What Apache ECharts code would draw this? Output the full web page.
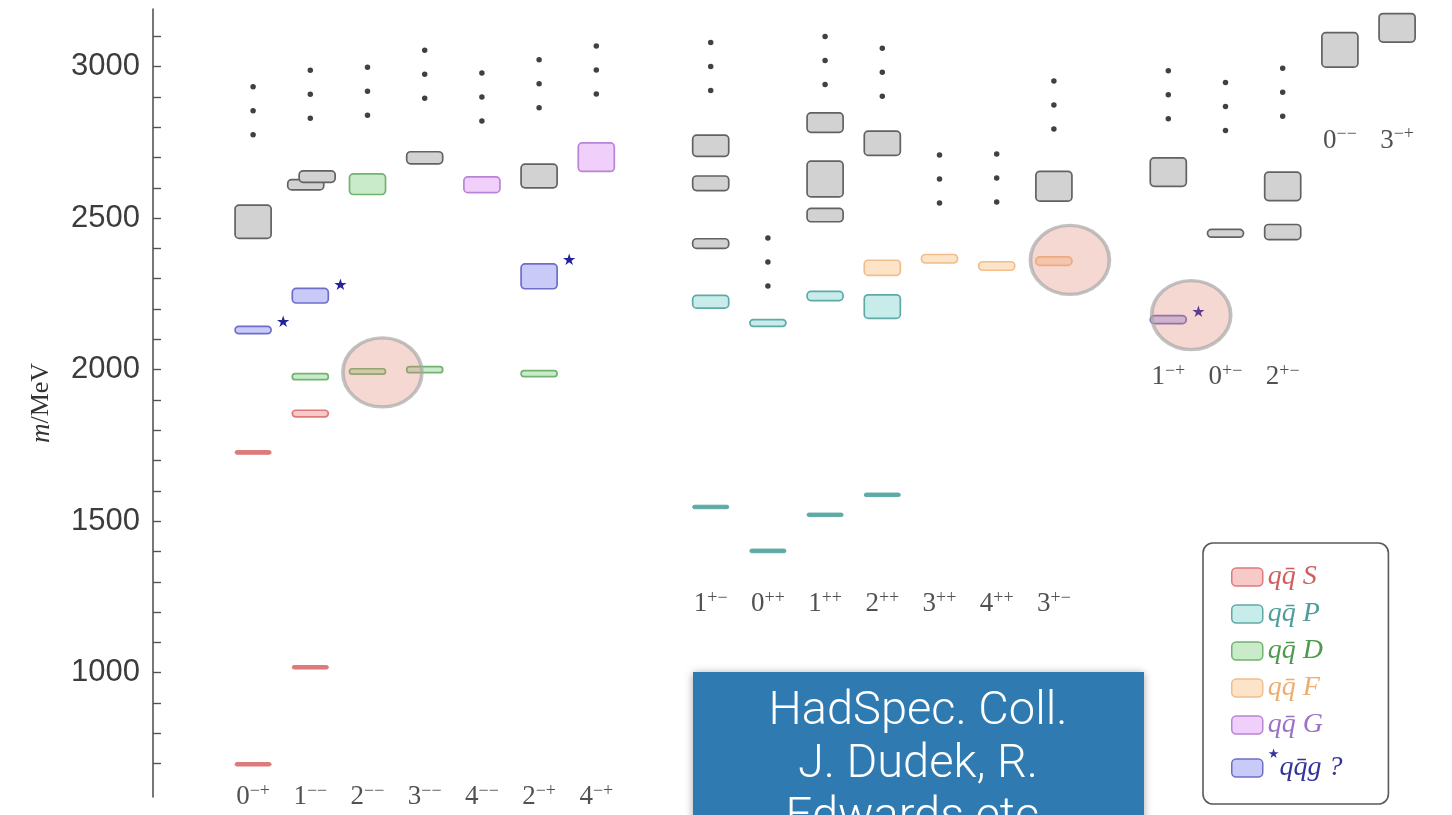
<!DOCTYPE html>
<html>
<head>
<meta charset="utf-8">
<script src="https://cdn.jsdelivr.net/npm/echarts@6/dist/echarts.min.js"></script>
<style>
  html, body { margin: 0; padding: 0; background: #ffffff; }
  #chart { width: 1452px; height: 815px; }
</style>
</head>
<body>
<div id="chart"></div>
<script>
// Isoscalar/isovector meson spectrum: each level is [column, mass (MeV), half-height (MeV)]
const levelsS = [[0, 698, 4], [0, 1727, 6], [1, 1018, 4], [1, 1855, 11]];
const levelsP = [[8, 1547, 5], [8, 2224, 21], [9, 1402, 6], [9, 2154, 11], [10, 1521, 5], [10, 2243, 15], [11, 1587, 5], [11, 2208, 39]];
const levelsD = [[1, 1977, 10], [2, 1994, 9], [2, 2612, 34], [3, 2000, 10], [5, 1987, 10]];
const levelsF = [[11, 2336, 25], [12, 2366, 14], [13, 2342, 14], [14, 2358, 14]];
const levelsG = [[4, 2610, 26], [6, 2701, 47]];
const levelsHybrid = [[0, 2131, 12], [1, 2244, 24], [5, 2308, 41], [16, 2165, 13]];
const levelsOther = [
  [0, 2488, 55], [0.92, 2610, 17], [1.12, 2637, 19], [3, 2699, 20], [5, 2639, 39],
  [8, 2416, 16], [8, 2615, 24], [8, 2739, 35], [10, 2510, 22], [10, 2629, 59], [10, 2815, 32],
  [11, 2747, 40], [14, 2605, 49], [16, 2652, 47], [17, 2450, 13], [18, 2454, 25], [18, 2605, 47],
  [19, 3055, 57], [20, 3128, 47]
];
// further states continue above: [column, mass of the middle dot]
const moreStates = [
  [0, 2854], [1, 2909], [2, 2919], [3, 2975], [4, 2900], [5, 2943], [6, 2989],
  [8, 3000], [9, 2355], [10, 3020], [11, 2981], [12, 2629], [13, 2632], [14, 2873],
  [16, 2907], [17, 2868], [18, 2915]
];
// J^PC channels, their columns and the mass at which each channel name sits
const jpcNames = ['0-+', '1--', '2--', '3--', '4--', '2-+', '4-+',
                  '1+-', '0++', '1++', '2++', '3++', '4++', '3+-',
                  '1-+', '0+-', '2+-', '0--', '3-+'];
const jpcColumns = [0, 1, 2, 3, 4, 5, 6, 8, 9, 10, 11, 12, 13, 14, 16, 17, 18, 19, 20];
const jpcLabelMass = [590, 590, 590, 590, 590, 590, 590,
                      1226, 1226, 1226, 1226, 1226, 1226, 1226,
                      1976, 1976, 1976, 2756, 2756];
// circled states: [column, mass]
const circled = [[2.26, 1991], [14.28, 2362], [16.40, 2180]];
// axis ticks
const massTicks = [700, 800, 900, 1000, 1100, 1200, 1300, 1400, 1500, 1600, 1700, 1800, 1900, 2000,
                   2100, 2200, 2300, 2400, 2500, 2600, 2700, 2800, 2900, 3000, 3100];
const massLabels = [1000, 1500, 2000, 2500, 3000];

const palette = {
  S:      { fill: '#f7c9c9', stroke: '#dd7b7b', text: '#cf5f5f' },
  P:      { fill: '#c8ecea', stroke: '#5eaaa6', text: '#4f9d9a' },
  D:      { fill: '#caebca', stroke: '#72b372', text: '#4e9a4e' },
  F:      { fill: '#fde4c8', stroke: '#f1bd8a', text: '#f0ae6c' },
  G:      { fill: '#f0d0fa', stroke: '#b884d8', text: '#9c72c6' },
  Hybrid: { fill: '#cacaf8', stroke: '#6e6ec8', text: '#34349c' },
  Other:  { fill: '#d2d2d2', stroke: '#626262', text: '#333333' }
};

function levelSeries(name, data, colors, star) {
  return {
    type: 'custom',
    name: name,
    coordinateSystem: 'cartesian2d',
    data: data,
    encode: { x: 0, y: 1 },
    z: 2,
    silent: true,
    itemStyle: { color: colors.fill, borderColor: colors.stroke, borderWidth: 1.5 },
    renderItem: function (params, api) {
      const col = api.value(0), m = api.value(1), e = api.value(2);
      const top = api.coord([col, m + e]);
      const bot = api.coord([col, m - e]);
      const w = api.size([0.63, 0])[0];
      let h = bot[1] - top[1];
      let y0 = top[1];
      const minH = 3.5;
      const thin = h < 5;
      if (h < minH) { y0 -= (minH - h) / 2; h = minH; }
      const children = [{
        type: 'rect',
        shape: { x: top[0] - w / 2, y: y0, width: w, height: h, r: Math.min(4, h / 2) },
        style: { fill: thin ? colors.stroke : colors.fill, stroke: colors.stroke, lineWidth: thin ? 1 : 1.7 }
      }];
      if (star) {
        children.push({
          type: 'text',
          style: {
            text: '\u2605', x: top[0] + w / 2 + 12, y: y0 - 3,
            fill: '#22229a', font: '16px "DejaVu Sans"', align: 'center', verticalAlign: 'middle'
          }
        });
      }
      return { type: 'group', children: children };
    }
  };
}

function jpcRich(name) {
  const digit = name.charAt(0);
  const sup = name.slice(1).replace(/-/g, '\u2212');
  return '{n|' + digit + '}{s|' + sup + '}';
}

const legendText = {
  S: '{q|qq\u0304} {l|S}',
  P: '{q|qq\u0304} {l|P}',
  D: '{q|qq\u0304} {l|D}',
  F: '{q|qq\u0304} {l|F}',
  G: '{q|qq\u0304} {l|G}',
  Hybrid: '{st|\u2605}{q|qq\u0304g} {l|?}'
};

const serif = '"Liberation Serif", "DejaVu Serif", serif';
const legendNames = ['S', 'P', 'D', 'F', 'G', 'Hybrid'];

const chart = echarts.init(document.getElementById('chart'), null, { renderer: 'canvas' });
chart.setOption({
  animation: false,
  backgroundColor: '#ffffff',
  grid: { left: 153, right: 12, top: 9, bottom: 18, containLabel: false },
  xAxis: { type: 'value', min: -1.75, max: 20.75, show: false },
  yAxis: {
    type: 'value', min: 590, max: 3190,
    axisLine: { show: true, onZero: false, lineStyle: { color: '#555555', width: 1.6 } },
    axisTick: { show: true, inside: true, length: 8, customValues: massTicks,
                lineStyle: { color: '#555555', width: 1.4 } },
    axisLabel: { customValues: massLabels, fontSize: 31, color: '#3c3c3c',
                 fontFamily: '"Liberation Sans", Arial, sans-serif', margin: 13,
                 formatter: function (v) { return String(v); } },
    splitLine: { show: false },
    name: '{i|m}/MeV',
    nameLocation: 'middle',
    nameGap: 98,
    nameRotate: 90,
    nameTextStyle: {
      fontFamily: serif, fontSize: 26, color: '#333333',
      rich: { i: { fontFamily: serif, fontStyle: 'italic', fontSize: 27, color: '#333333' } }
    }
  },
  legend: {
    orient: 'vertical',
    left: 1203, top: 543, height: 400,
    padding: [20, 46, 16, 28],
    itemGap: 9,
    itemWidth: 31, itemHeight: 18,
    icon: 'roundRect',
    selectedMode: false,
    borderColor: '#5a5a5a', borderWidth: 1.6, borderRadius: 10,
    backgroundColor: '#ffffff',
    data: legendNames.map(function (n) {
      return {
        name: n,
        itemStyle: { color: palette[n].fill, borderColor: palette[n].stroke, borderWidth: 1.5 },
        textStyle: { color: palette[n].text }
      };
    }),
    formatter: function (n) { return legendText[n]; },
    textStyle: {
      fontFamily: serif, fontSize: 28, fontStyle: 'italic', lineHeight: 26,
      rich: {
        q: { fontFamily: serif, fontStyle: 'italic', fontSize: 28, lineHeight: 26 },
        l: { fontFamily: serif, fontStyle: 'italic', fontSize: 28, lineHeight: 26 },
        st: { fontFamily: '"DejaVu Sans"', fontSize: 13, verticalAlign: 'top', lineHeight: 40 }
      }
    }
  },
  graphic: [
    {
      type: 'rect', x: 693, y: 672, z: 100,
      shape: { x: 0, y: 0, width: 451, height: 160 },
      style: { fill: '#2f7ab0', shadowBlur: 8, shadowColor: 'rgba(0,0,0,0.35)', shadowOffsetY: 1 }
    },
    {
      type: 'text', z: 101, x: 918, y: 686,
      style: {
        text: 'HadSpec. Coll.\nJ. Dudek, R.\nEdwards etc.',
        fill: '#ffffff', font: '300 47px Roboto, "Liberation Sans", sans-serif',
        align: 'center', verticalAlign: 'top', lineHeight: 53
      }
    }
  ],
  series: [
    levelSeries('Other', levelsOther, palette.Other, false),
    levelSeries('S', levelsS, palette.S, false),
    levelSeries('P', levelsP, palette.P, false),
    levelSeries('D', levelsD, palette.D, false),
    levelSeries('F', levelsF, palette.F, false),
    levelSeries('G', levelsG, palette.G, false),
    levelSeries('Hybrid', levelsHybrid, palette.Hybrid, true),
    {
      type: 'scatter', name: 'more', silent: true, z: 2, clip: false,
      symbol: 'path://M0,2.75a2.75,2.75 0 1,0 5.5,0a2.75,2.75 0 1,0 -5.5,0zM0,26.75a2.75,2.75 0 1,0 5.5,0a2.75,2.75 0 1,0 -5.5,0zM0,50.75a2.75,2.75 0 1,0 5.5,0a2.75,2.75 0 1,0 -5.5,0z',
      symbolSize: [5.5, 53.5],
      itemStyle: { color: '#111111' },
      data: moreStates
    },
    {
      type: 'scatter', name: 'circled', silent: true, z: 3, clip: false,
      symbol: 'circle', symbolSize: [79, 69],
      itemStyle: { color: 'rgba(226,128,108,0.38)', borderColor: 'rgba(165,165,165,0.85)', borderWidth: 3.5 },
      data: circled
    },
    {
      type: 'scatter', name: 'jpc', silent: true, z: 4, clip: false,
      symbolSize: 1, itemStyle: { color: 'rgba(0,0,0,0)' },
      data: jpcNames.map(function (n, i) { return { name: n, value: [jpcColumns[i], jpcLabelMass[i]] }; }),
      label: {
        show: true, position: 'inside',
        formatter: function (p) { return jpcRich(p.name); },
        rich: {
          n: { fontFamily: serif, fontSize: 27, color: '#262626', lineHeight: 30 },
          s: { fontFamily: serif, fontSize: 18, color: '#262626', verticalAlign: 'top', lineHeight: 18 }
        }
      }
    }
  ]
});
</script>
</body>
</html>
